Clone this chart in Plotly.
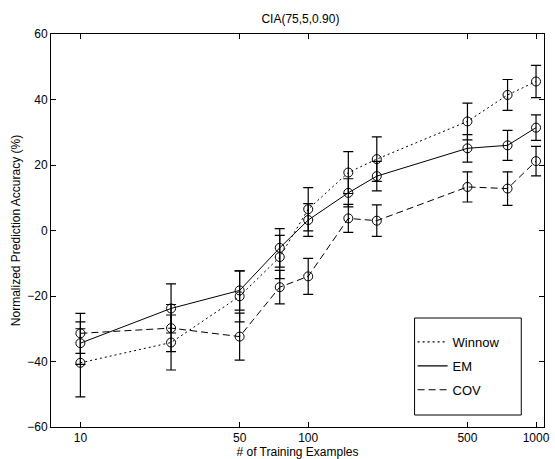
import plotly.graph_objects as go

# Training set sizes (log-scaled x axis)
n_examples = [10, 25, 50, 75, 100, 150, 200, 500, 750, 1000]

# Normalized prediction accuracy (%) and error-bar half widths per method
winnow_acc = [-40.4, -34.2, -20.1, -8.1, 6.5, 17.7, 21.8, 33.3, 41.4, 45.5]
winnow_err = [10.4, 8.4, 7.8, 6.6, 6.6, 6.4, 6.8, 5.6, 4.7, 4.9]

em_acc = [-34.4, -23.8, -18.3, -5.3, 3.2, 11.5, 16.6, 25.1, 26.0, 31.4]
em_err = [6.5, 7.5, 6.0, 5.9, 5.0, 4.3, 4.5, 4.2, 4.6, 3.9]

cov_acc = [-31.4, -29.8, -32.4, -17.3, -14.0, 3.7, 3.0, 13.3, 12.8, 21.2]
cov_err = [6.1, 7.2, 7.2, 5.1, 5.5, 4.3, 4.8, 4.6, 5.1, 4.5]

x_ticks = [10, 50, 100, 500, 1000]
y_ticks = [-60, -40, -20, 0, 20, 40, 60]

FONT = "Liberation Sans, Arial, Helvetica, sans-serif"

series = [
    ("Winnow", winnow_acc, winnow_err, "2px,3px"),
    ("EM", em_acc, em_err, "solid"),
    ("COV", cov_acc, cov_err, "7px,4px"),
]

fig = go.Figure()
for name, acc, err, dash in series:
    # data with circle markers and error bars
    fig.add_trace(go.Scatter(
        x=n_examples, y=acc, name=name, mode="lines+markers",
        showlegend=False,
        line=dict(color="black", width=1, dash=dash),
        marker=dict(symbol="circle-open", size=9, color="black",
                    line=dict(width=1, color="black")),
        error_y=dict(type="data", array=err, visible=True,
                     color="black", thickness=1.2, width=5),
    ))
for name, acc, err, dash in series:
    # line-only key entries for the legend
    fig.add_trace(go.Scatter(
        x=[None], y=[None], name=name, mode="lines", legendgroup=name,
        line=dict(color="black", width=1.2, dash=dash),
    ))

axis_common = dict(
    showline=True, linecolor="black", linewidth=1, mirror="ticks",
    ticks="inside", ticklen=5, tickcolor="black", showgrid=False,
    zeroline=False, tickfont=dict(family=FONT, size=12, color="black"),
    ticklabeloverflow="allow",
)

fig.update_layout(
    width=555, height=459,
    margin=dict(l=51, r=5, t=34, b=32),
    paper_bgcolor="white", plot_bgcolor="white",
    font=dict(family=FONT, size=12, color="black"),
    title=dict(text="CIA(75,5,0.90)", x=0.5413, xanchor="center",
               y=1 - 19 / 459, yanchor="middle",
               font=dict(family=FONT, size=12, color="black")),
    xaxis=dict(type="log", range=[0.871, 3.035], tickvals=x_ticks,
               ticktext=[str(v) for v in x_ticks],
               title=dict(text="# of Training Examples", standoff=0,
                          font=dict(family=FONT, size=12)),
               **axis_common),
    yaxis=dict(range=[-60, 60], tickvals=y_ticks,
               title=dict(text="Normalized Prediction Accuracy (%)", standoff=4,
                          font=dict(family=FONT, size=12)),
               **axis_common),
    legend=dict(x=(417 - 51) / 499, xanchor="left",
                y=1 - (327 - 34) / 393, yanchor="top",
                bgcolor="rgba(0,0,0,0)", borderwidth=0,
                tracegroupgap=4, itemwidth=30,
                font=dict(family=FONT, size=13, color="black")),
    shapes=[dict(type="rect", xref="paper", yref="paper",
                 x0=(419 - 51) / 499, x1=(527 - 51) / 499,
                 y0=1 - (415 - 34) / 393, y1=1 - (318 - 34) / 393,
                 line=dict(color="black", width=1), fillcolor="white",
                 layer="above")],
    showlegend=True,
)

fig.write_html("out.html")
